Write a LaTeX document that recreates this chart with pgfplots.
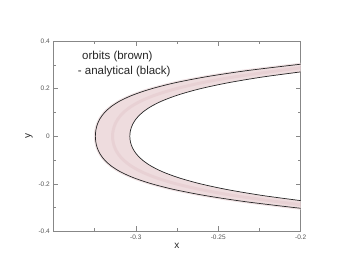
\documentclass[border=0pt]{standalone}
\usepackage{fontspec}
\setmainfont{Liberation Sans}
\usepackage{pgfplots}
\pgfplotsset{compat=1.18}
\definecolor{orbit}{RGB}{238,220,222}
\definecolor{orbitdark}{RGB}{226,196,201}
\definecolor{axisgray}{RGB}{135,135,135}
\definecolor{labelgray}{RGB}{85,85,85}

% outer analytical curve
\pgfplotstableread{
x y
-0.1902 -0.31
-0.2040 -0.30
-0.2339 -0.275
-0.2576 -0.25
-0.2762 -0.225
-0.2904 -0.2
-0.3012 -0.175
-0.3092 -0.15
-0.3149 -0.125
-0.3189 -0.1
-0.3216 -0.075
-0.3233 -0.05
-0.3242 -0.025
-0.3245 0
-0.3242 0.025
-0.3233 0.05
-0.3216 0.075
-0.3189 0.1
-0.3149 0.125
-0.3092 0.15
-0.3012 0.175
-0.2904 0.2
-0.2762 0.225
-0.2576 0.25
-0.2339 0.275
-0.2040 0.30
-0.1902 0.31
}\outercurve

% inner analytical curve
\pgfplotstableread{
x y
-0.1954 -0.275
-0.2225 -0.25
-0.2441 -0.225
-0.2609 -0.2
-0.2738 -0.175
-0.2836 -0.15
-0.2908 -0.125
-0.2960 -0.1
-0.2996 -0.075
-0.3019 -0.05
-0.3032 -0.025
-0.3036 0
-0.3032 0.025
-0.3019 0.05
-0.2996 0.075
-0.2960 0.1
-0.2908 0.125
-0.2836 0.15
-0.2738 0.175
-0.2609 0.2
-0.2441 0.225
-0.2225 0.25
-0.1954 0.275
}\innercurve

\begin{document}
\begin{tikzpicture}
\path[use as bounding box] (-53.3pt,-41.7pt) rectangle (300.7pt,231.3pt);
\begin{axis}[
  scale only axis, width=247.4pt, height=190.1pt,
  at={(0,0)}, anchor=south west,
  xmin=-0.35, xmax=-0.2, ymin=-0.4, ymax=0.4,
  xtick={-0.3,-0.25,-0.2}, xticklabels={-0.3,-0.25,-0.2},
  minor xtick={-0.325,-0.275,-0.225},
  ytick={-0.4,-0.2,0,0.2,0.4}, yticklabels={-0.4,-0.2,0,0.2,0.4},
  minor ytick={-0.3,-0.1,0.1,0.3},
  tick align=inside, major tick length=5pt, minor tick length=3pt,
  axis line style={axisgray, line width=0.6pt},
  every tick/.style={axisgray, line width=0.5pt},
  ticklabel style={font=\fontsize{6.5}{7}\selectfont, text=labelgray},
  xticklabel style={anchor=center, yshift=-6.4pt},
  xlabel={x}, ylabel={y},
  label style={font=\fontsize{10}{11}\selectfont, text=black!85},
  xlabel style={at={(axis description cs:0.5,0)}, anchor=center, yshift=-14.7pt},
  ylabel style={at={(axis description cs:0,0.5)}, anchor=center, yshift=24.3pt},
]
% orbit band (brown dots)
\addplot[fill=orbit, draw=none, smooth] coordinates {
 (-0.1902,-0.31) (-0.2040,-0.30) (-0.2339,-0.275) (-0.2576,-0.25) (-0.2762,-0.225)
 (-0.2904,-0.2) (-0.3012,-0.175) (-0.3092,-0.15) (-0.3149,-0.125) (-0.3189,-0.1)
 (-0.3216,-0.075) (-0.3233,-0.05) (-0.3242,-0.025) (-0.3245,0) (-0.3242,0.025)
 (-0.3233,0.05) (-0.3216,0.075) (-0.3189,0.1) (-0.3149,0.125) (-0.3092,0.15)
 (-0.3012,0.175) (-0.2904,0.2) (-0.2762,0.225) (-0.2576,0.25) (-0.2339,0.275)
 (-0.2040,0.30) (-0.1902,0.31)
 (-0.1954,0.275) (-0.2225,0.25) (-0.2441,0.225) (-0.2609,0.2) (-0.2738,0.175)
 (-0.2836,0.15) (-0.2908,0.125) (-0.2960,0.1) (-0.2996,0.075) (-0.3019,0.05)
 (-0.3032,0.025) (-0.3036,0) (-0.3032,-0.025) (-0.3019,-0.05) (-0.2996,-0.075)
 (-0.2960,-0.1) (-0.2908,-0.125) (-0.2836,-0.15) (-0.2738,-0.175) (-0.2609,-0.2)
 (-0.2441,-0.225) (-0.2225,-0.25) (-0.1954,-0.275)
};
% fuzzy spread just outside the outer curve
\addplot[orbit, line width=3pt, opacity=0.8, smooth] table {\outercurve};
% denser middle of the band
\addplot[orbitdark, line width=3pt, opacity=0.45, smooth] coordinates {
 (-0.198,-0.29) (-0.21465,-0.275) (-0.24005,-0.25) (-0.26015,-0.225) (-0.27565,-0.2)
 (-0.2875,-0.175) (-0.2964,-0.15) (-0.30285,-0.125) (-0.30745,-0.1) (-0.3106,-0.075)
 (-0.3126,-0.05) (-0.3137,-0.025) (-0.3141,0) (-0.3137,0.025) (-0.3126,0.05)
 (-0.3106,0.075) (-0.30745,0.1) (-0.30285,0.125) (-0.2964,0.15) (-0.2875,0.175)
 (-0.27565,0.2) (-0.26015,0.225) (-0.24005,0.25) (-0.21465,0.275) (-0.198,0.29)
};
% analytical curves (black)
\addplot[black!85, line width=0.7pt, smooth] table {\outercurve};
\addplot[black!85, line width=0.7pt, smooth] table {\innercurve};
\node[anchor=west, inner sep=0pt, font=\fontsize{11.5}{12}\selectfont, text=black!85]
  at (rel axis cs:0,1) [xshift=28.7pt, yshift=-15.1pt] {orbits (brown)};
\node[anchor=west, inner sep=0pt, font=\fontsize{11.5}{12}\selectfont, text=black!85]
  at (rel axis cs:0,1) [xshift=24.4pt, yshift=-30.1pt] {- analytical (black)};
\end{axis}
\end{tikzpicture}
\end{document}
